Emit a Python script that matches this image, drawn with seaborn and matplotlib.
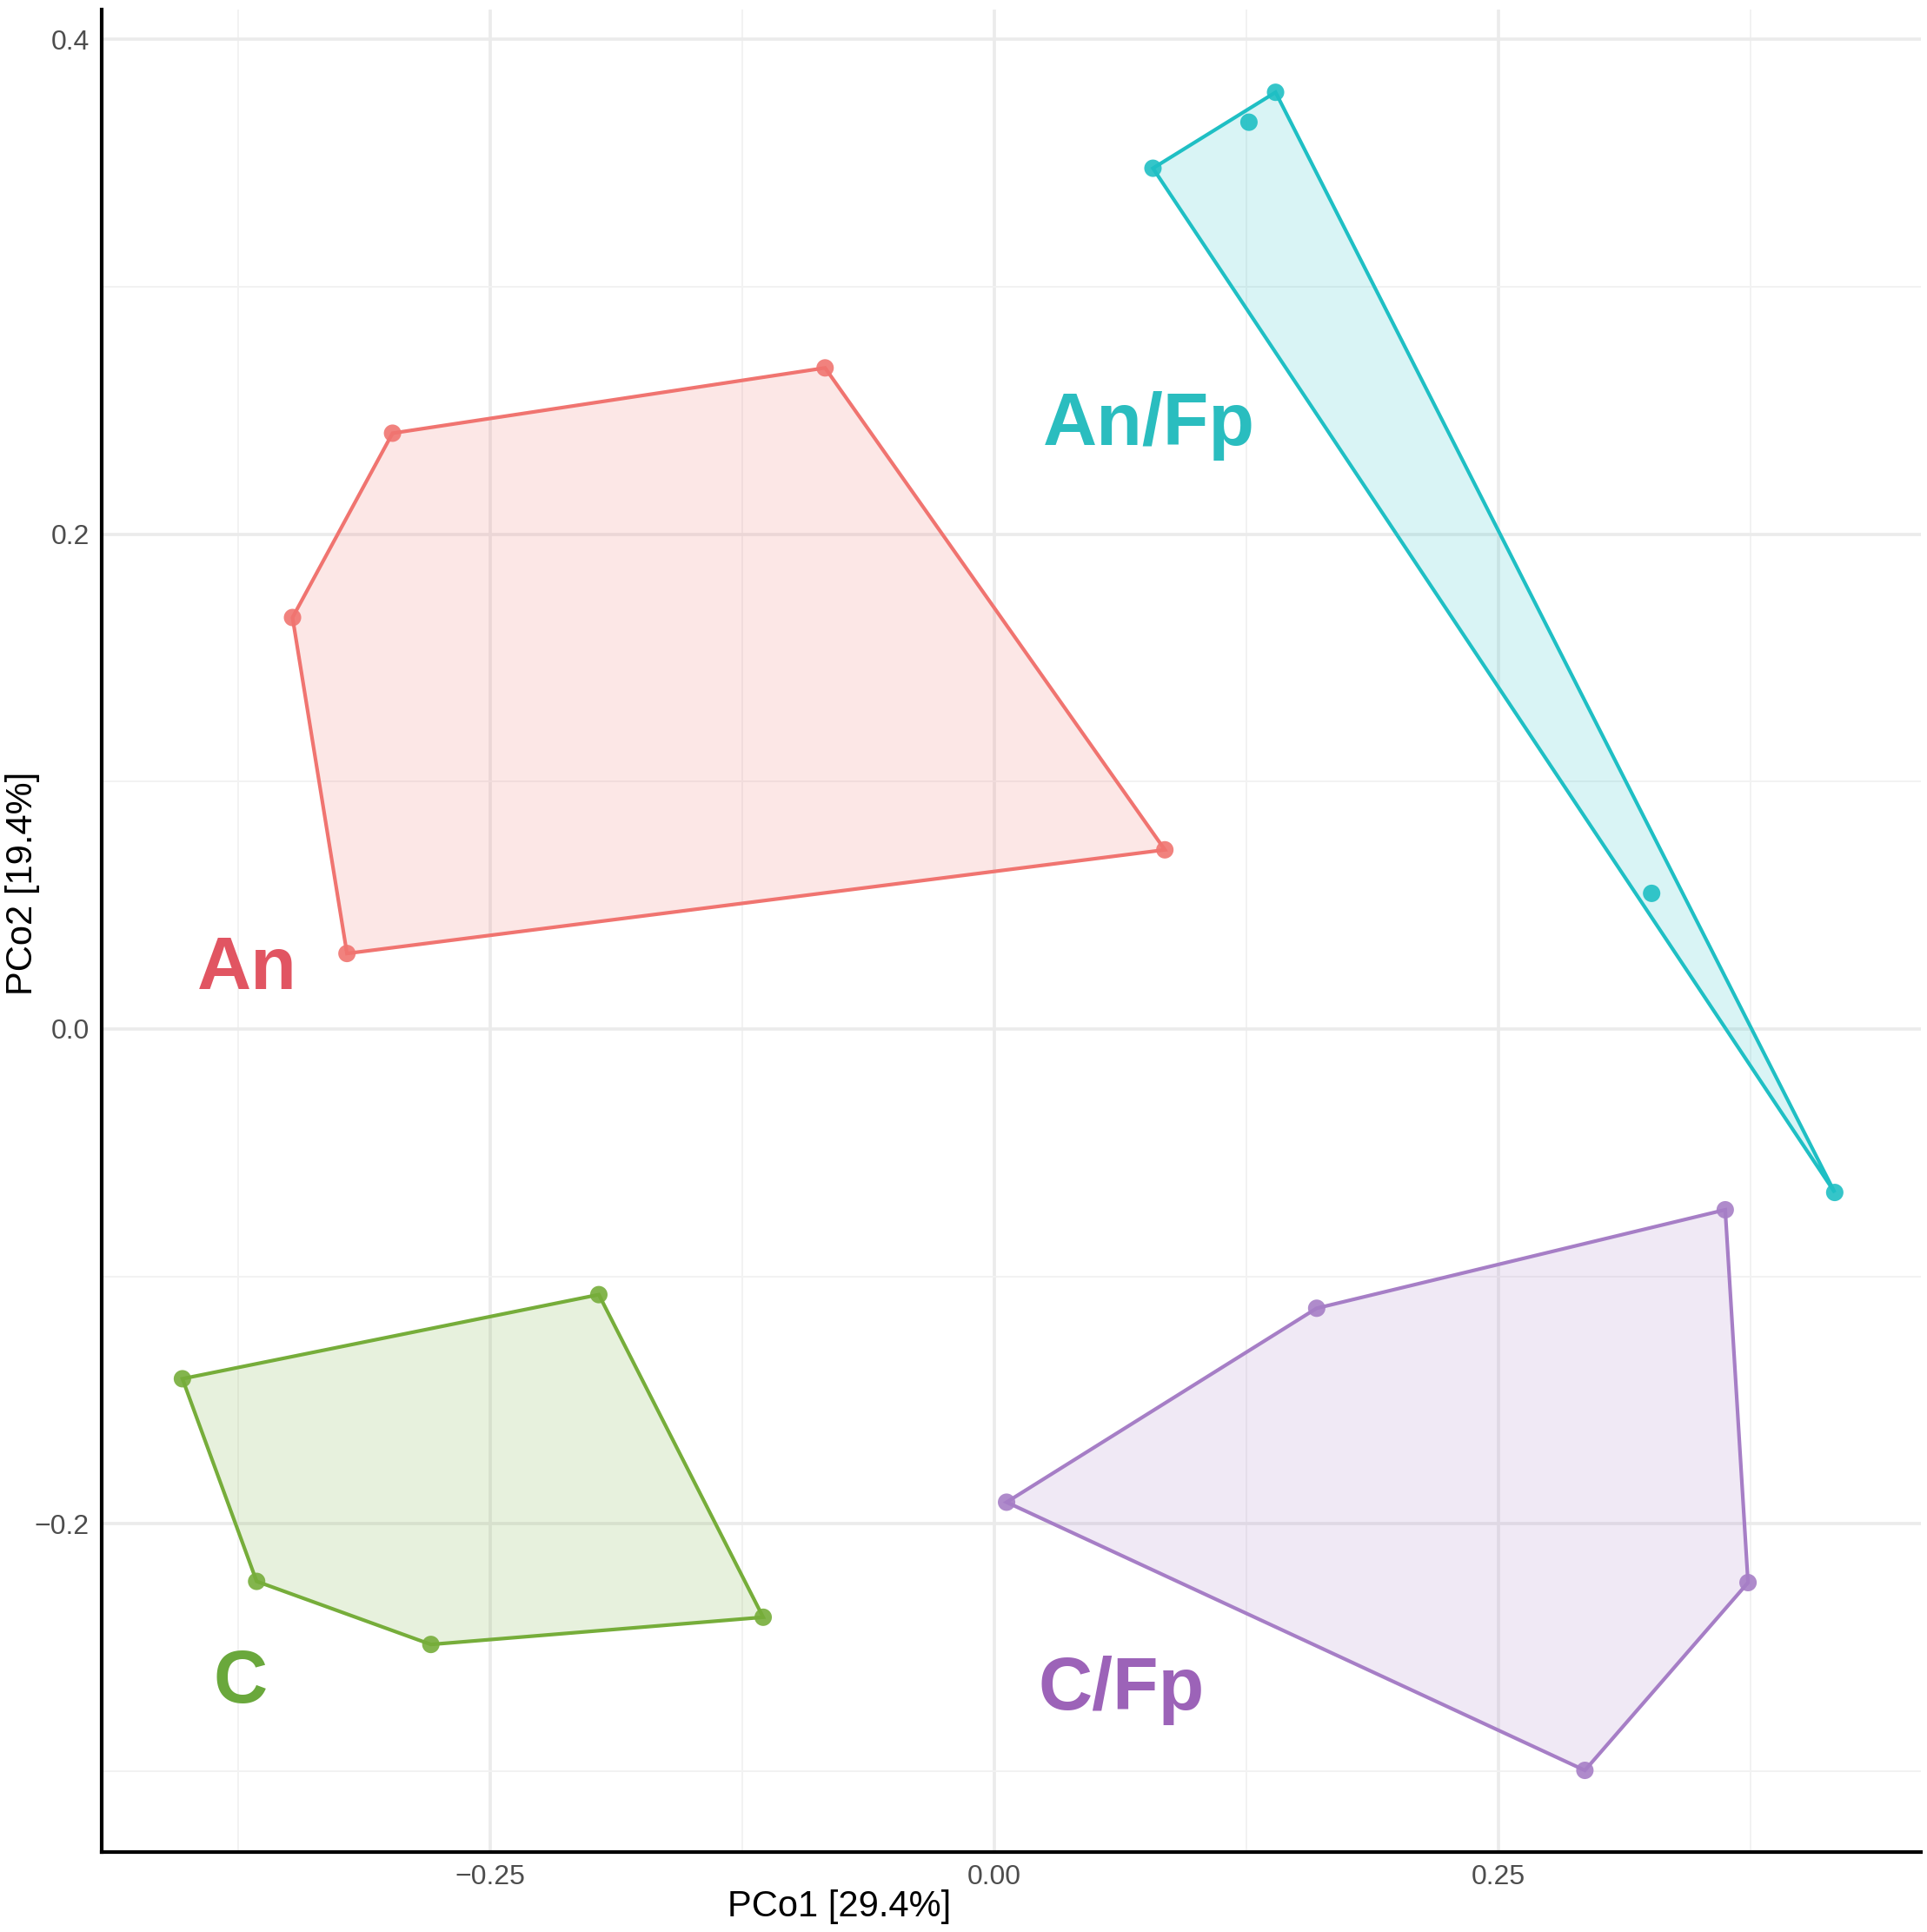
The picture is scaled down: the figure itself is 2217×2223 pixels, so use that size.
import numpy as np
import pandas as pd
import matplotlib
matplotlib.use("Agg")
import matplotlib.pyplot as plt
from matplotlib.ticker import MultipleLocator
import seaborn as sns

# ---- data ----
groups = ["An", "An/Fp", "C", "C/Fp"]
an_x = [-0.2984, -0.0839, -0.3480, -0.3210, 0.0846]
an_y = [0.2408, 0.2672, 0.1663, 0.0305, 0.0724]
anfp_x = [0.0787, 0.1395, 0.1263, 0.3260, 0.4168]
anfp_y = [0.3479, 0.3786, 0.3665, 0.0548, -0.0661]
c_x = [-0.4026, -0.1961, -0.3658, -0.2794, -0.1146]
c_y = [-0.1414, -0.1074, -0.2233, -0.2488, -0.2378]
cfp_x = [0.0061, 0.1599, 0.3625, 0.3738, 0.2929]
cfp_y = [-0.1913, -0.1129, -0.0731, -0.2238, -0.2997]

label_x = [-0.3707, 0.0766, -0.3738, 0.0631]
label_y = [0.0240, 0.2436, -0.2647, -0.2672]

point_colors = ["#F07470", "#1FBFC4", "#76AD3A", "#A67EC6"]
label_colors = ["#E15562", "#2ABDBF", "#6AA83C", "#9C63B8"]

df = pd.DataFrame({
    "PCo1": an_x + anfp_x + c_x + cfp_x,
    "PCo2": an_y + anfp_y + c_y + cfp_y,
    "group": ["An"] * len(an_x) + ["An/Fp"] * len(anfp_x)
             + ["C"] * len(c_x) + ["C/Fp"] * len(cfp_x),
})


def convex_hull(pts):
    pts = sorted(set(pts))
    if len(pts) <= 2:
        return pts

    def cross(o, a, b):
        return (a[0] - o[0]) * (b[1] - o[1]) - (a[1] - o[1]) * (b[0] - o[0])

    lower = []
    for p in pts:
        while len(lower) >= 2 and cross(lower[-2], lower[-1], p) <= 0:
            lower.pop()
        lower.append(p)
    upper = []
    for p in reversed(pts):
        while len(upper) >= 2 and cross(upper[-2], upper[-1], p) <= 0:
            upper.pop()
        upper.append(p)
    return lower[:-1] + upper[:-1]


sns.set_theme(style="white")
plt.rcParams["font.family"] = ["Liberation Sans", "DejaVu Sans"]

fig = plt.figure(figsize=(2217 / 200, 2223 / 200), dpi=200)
ax = fig.add_axes([0.0526, 0.0414, 0.9442, 0.9536])

palette = dict(zip(groups, point_colors))

for g, col in zip(groups, point_colors):
    sub = df[df["group"] == g]
    hull = convex_hull(list(zip(sub["PCo1"], sub["PCo2"])))
    hx = [p[0] for p in hull]
    hy = [p[1] for p in hull]
    ax.fill(hx, hy, facecolor=col, alpha=0.17, edgecolor="none", zorder=2)
    ax.fill(hx, hy, facecolor="none", edgecolor=col, linewidth=1.5, zorder=3)

sns.scatterplot(data=df, x="PCo1", y="PCo2", hue="group", palette=palette,
                s=52, edgecolor="none", alpha=0.9, legend=False, ax=ax, zorder=4)

for g, lx, ly, lc in zip(groups, label_x, label_y, label_colors):
    ax.text(lx, ly, g, color=lc, fontsize=31, fontweight="bold",
            ha="center", va="center", zorder=5)

ax.set_xlim(-0.4428, 0.4595)
ax.set_ylim(-0.3327, 0.412)
ax.xaxis.set_major_locator(MultipleLocator(0.25))
ax.xaxis.set_minor_locator(MultipleLocator(0.125))
ax.yaxis.set_major_locator(MultipleLocator(0.2))
ax.yaxis.set_minor_locator(MultipleLocator(0.1))
ax.xaxis.set_major_formatter(matplotlib.ticker.FuncFormatter(lambda v, p: f"{v:.2f}".replace("-", "\u2212")))
ax.yaxis.set_major_formatter(matplotlib.ticker.FuncFormatter(lambda v, p: f"{v:.1f}".replace("-", "\u2212")))

ax.grid(which="major", color="#EBEBEB", linewidth=1.3, zorder=0)
ax.grid(which="minor", color="#F2F2F2", linewidth=0.7, zorder=0)
ax.set_axisbelow(True)

for s in ["top", "right"]:
    ax.spines[s].set_visible(False)
for s in ["left", "bottom"]:
    ax.spines[s].set_color("black")
    ax.spines[s].set_linewidth(1.5)

ax.tick_params(axis="both", which="both", length=0, labelsize=11.5,
               labelcolor="#4D4D4D", pad=5)

ax.set_xlabel("PCo1 [29.4%]", fontsize=15, color="black")
ax.set_ylabel("PCo2 [19.4%]", fontsize=15, color="black")
ax.xaxis.set_label_coords(0.4057, -0.0205)
ax.yaxis.set_label_coords(-0.0335, 0.526)

fig.savefig("out.png", dpi=200, facecolor="white")
